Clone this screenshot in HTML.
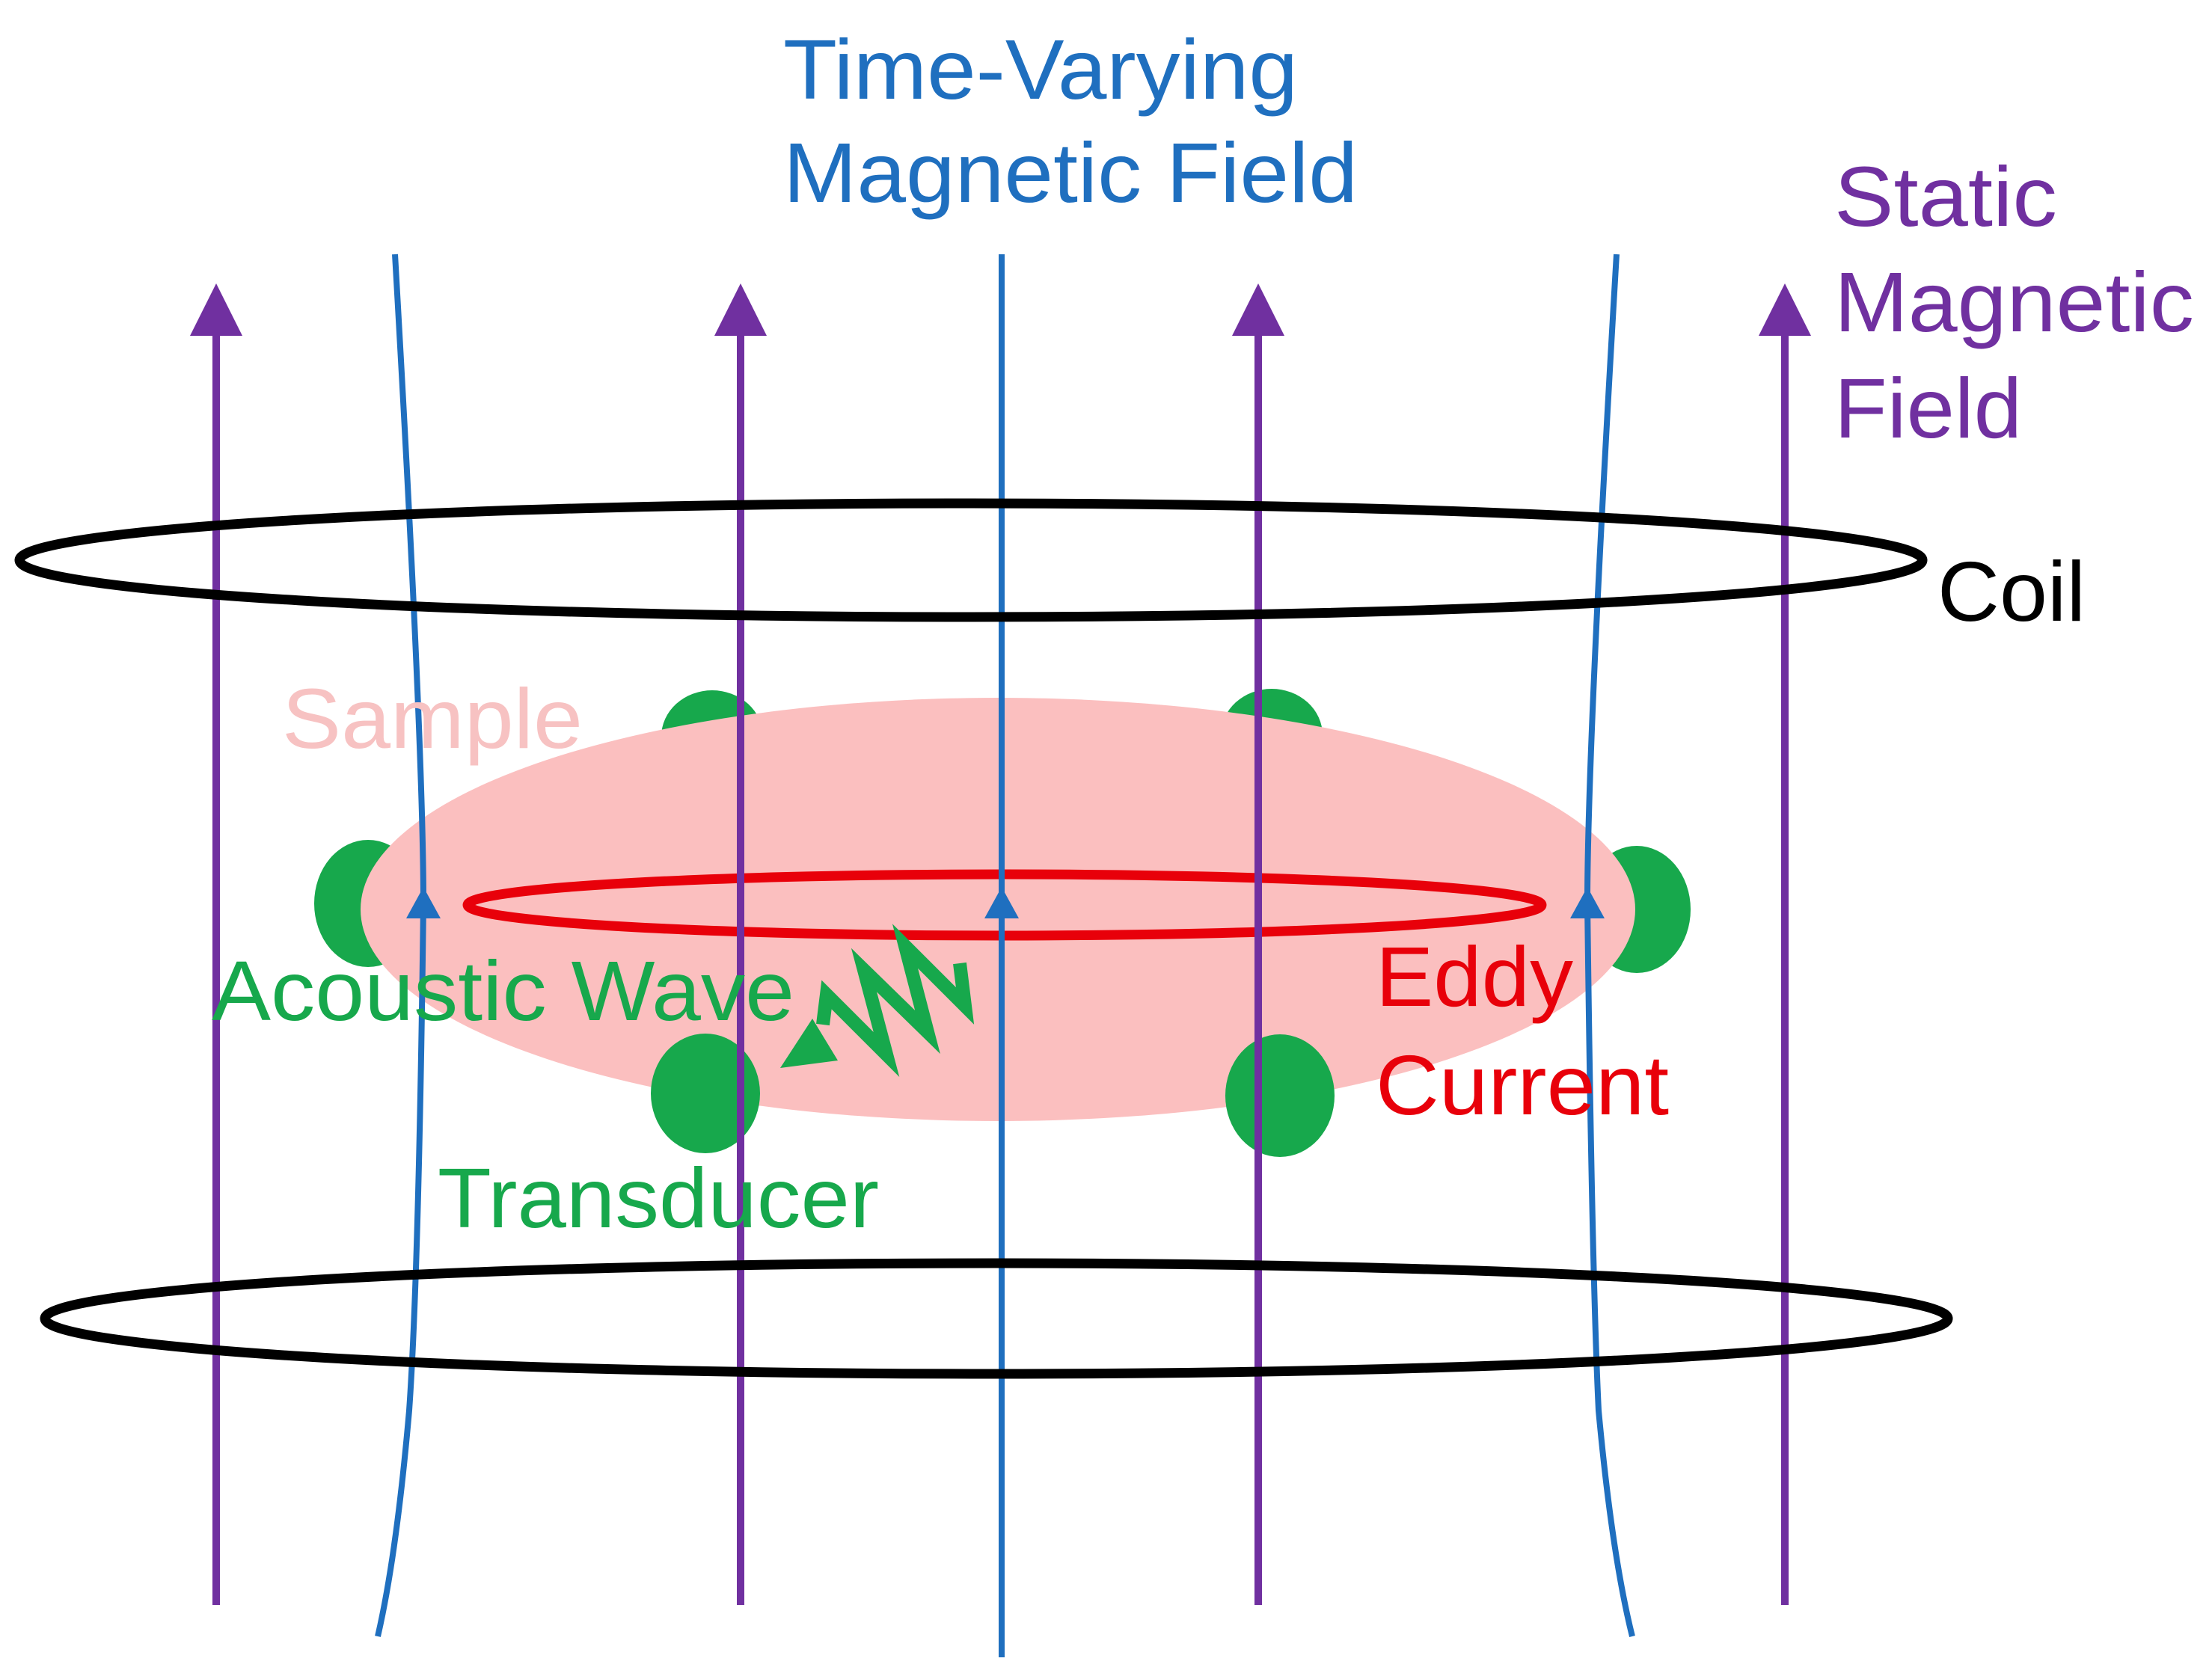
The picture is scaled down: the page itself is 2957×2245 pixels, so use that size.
<!DOCTYPE html>
<html><head><meta charset="utf-8"><style>
html,body{margin:0;padding:0;background:#fff;}
svg{display:block}
text{font-family:"Liberation Sans",Arial,sans-serif;font-size:113px;}
</style></head><body>
<svg width="2957" height="2245" viewBox="0 0 2957 2245" xmlns="http://www.w3.org/2000/svg">
<rect width="2957" height="2245" fill="#fff"/>
<g fill="#17a84c">
<ellipse cx="952" cy="985" rx="68" ry="62"/>
<ellipse cx="1700" cy="983" rx="68" ry="62"/>
<ellipse cx="492" cy="1208" rx="72" ry="85"/>
<ellipse cx="2188" cy="1216" rx="72" ry="85"/>
</g>
<ellipse cx="1334" cy="1216" rx="852" ry="283" fill="#fbbfbf"/>
<ellipse cx="1343" cy="1210" rx="718" ry="41" fill="none" stroke="#e8000a" stroke-width="13"/>
<g fill="#17a84c">
<ellipse cx="943" cy="1462" rx="73" ry="80"/>
<ellipse cx="1711" cy="1465" rx="73" ry="82"/>
</g>
<polyline points="1283,1288 1290,1345 1210,1265 1240,1380 1155,1297 1185,1410 1105,1330 1100,1370" fill="none" stroke="#17a84c" stroke-width="18" stroke-linejoin="miter"/>
<polygon points="1043,1428 1086,1362 1120,1418" fill="#17a84c"/>
<g stroke="#7030a0" stroke-width="10" fill="none">
<line x1="289" y1="2146" x2="289" y2="440"/>
<line x1="990" y1="2146" x2="990" y2="440"/>
<line x1="1682" y1="2146" x2="1682" y2="440"/>
<line x1="2386" y1="2146" x2="2386" y2="440"/>
</g>
<g fill="#7030a0">
<polygon points="289,379 254,449 324,449"/>
<polygon points="990,379 955,449 1025,449"/>
<polygon points="1682,379 1647,449 1717,449"/>
<polygon points="2386,379 2351,449 2421,449"/>
</g>
<g stroke="#1f6fbf" stroke-width="8" fill="none">
<line x1="1339" y1="340" x2="1339" y2="2216"/>
<path d="M528,340 Q566,1000 566,1207 Q560,1700 547,1886 Q530,2080 505,2188"/>
<path d="M2161,340 Q2122,1000 2122,1207 Q2128,1700 2137,1886 Q2155,2080 2182,2188"/>
</g>
<g fill="#1f6fbf">
<polygon points="566,1186 543,1228 589,1228"/>
<polygon points="1339,1186 1316,1228 1362,1228"/>
<polygon points="2122,1186 2099,1228 2145,1228"/>
</g>
<ellipse cx="1298" cy="749" rx="1272" ry="76" fill="none" stroke="#000" stroke-width="13"/>
<ellipse cx="1332" cy="1763" rx="1272" ry="74" fill="none" stroke="#000" stroke-width="13"/>
<text x="1047" y="132" fill="#1f6fbf" textLength="688" lengthAdjust="spacingAndGlyphs">Time-Varying</text>
<text x="1047" y="270" fill="#1f6fbf" textLength="768" lengthAdjust="spacingAndGlyphs">Magnetic Field</text>
<text x="2452" y="302" fill="#7030a0" textLength="298" lengthAdjust="spacingAndGlyphs">Static</text>
<text x="2452" y="443" fill="#7030a0" textLength="481" lengthAdjust="spacingAndGlyphs">Magnetic</text>
<text x="2452" y="585" fill="#7030a0" textLength="251" lengthAdjust="spacingAndGlyphs">Field</text>
<text x="2590" y="830" fill="#000" textLength="198" lengthAdjust="spacingAndGlyphs">Coil</text>
<text x="377" y="1000" fill="#f7c2c2" textLength="402" lengthAdjust="spacingAndGlyphs">Sample</text>
<text x="283" y="1364" fill="#17a84c" textLength="779" lengthAdjust="spacingAndGlyphs">Acoustic Wave</text>
<text x="585" y="1641" fill="#17a84c" textLength="590" lengthAdjust="spacingAndGlyphs">Transducer</text>
<text x="1839" y="1345" fill="#e8000a" textLength="264" lengthAdjust="spacingAndGlyphs">Eddy</text>
<text x="1839" y="1490" fill="#e8000a" textLength="392" lengthAdjust="spacingAndGlyphs">Current</text>
</svg>
</body></html>
